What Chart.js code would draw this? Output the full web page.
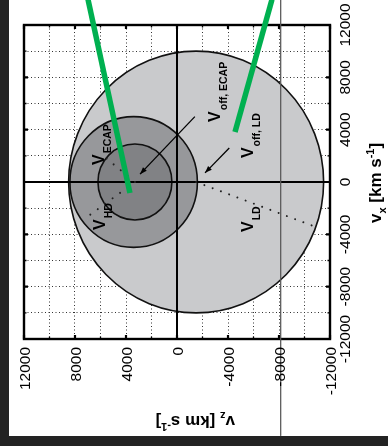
<!DOCTYPE html>
<html>
<head>
<meta charset="utf-8">
<script src="https://cdn.jsdelivr.net/npm/chart.js@4.4.1/dist/chart.umd.min.js"></script>
<style>
  html, body { margin: 0; padding: 0; background: #232323; }
  canvas { display: block; }
</style>
</head>
<body>
<canvas id="chart" width="388" height="446"></canvas>
<script>
// ---- data (velocities in km/s) ----
const vzTicks = [12000, 8000, 4000, 0, -4000, -8000, -12000];
const vxTicks = [12000, 8000, 4000, 0, -4000, -8000, -12000];

// velocity circles: LD (large), ECAP (middle), HD (inner)
const circleCentreVz = [-1500, 3400, 3300];
const circleCentreVx = [0, 0, 0];
const circleRadius   = [10000, 5000, 2900];

// offset vectors
const offEcapVz = [-1400, 2900];
const offEcapVx = [5000, 600];
const offLdVz   = [-4100, -2200];
const offLdVx   = [2600, 700];

// radius vectors (dotted)
const ldRadiusVz   = [-1500, -10900];
const ldRadiusVx   = [0, -3440];
const hdRadiusVz   = [3300, 7370];
const hdRadiusVx   = [0, -2900];
const ecapRadiusVz = [3300, 5570];
const ecapRadiusVx = [0, 1830];

// overlay strokes
const greenAVz = [6980, 3690];
const greenAVx = [13950, -840];
const greenBVz = [-7450, -4550];
const greenBVx = [13950, 3820];
const cursorVz = [-8130, -8130];
const cursorVx = [14000, -19400];
const pointerVz = [-15900];
const pointerVx = [0];

// ---- helpers ----
const zip = (a, b) => a.map((v, i) => ({ x: v, y: b[i] }));
const FONT = '"Liberation Sans", Arial, Helvetica, sans-serif';

const style = {
  circleFill: ['#c9cacc', '#97989b', '#818285'],
  green: '#00b050',
  blue: '#1f6fcb'
};

// left-pointing marker
const pointerImg = document.createElement('canvas');
pointerImg.width = 20; pointerImg.height = 34;
(function () {
  const g = pointerImg.getContext('2d');
  g.fillStyle = style.blue;
  g.beginPath(); g.moveTo(0, 17); g.lineTo(20, 0); g.lineTo(20, 34); g.closePath(); g.fill();
})();

function drawParts(ctx, x, y, angle, parts) {
  ctx.save();
  ctx.translate(x, y);
  ctx.rotate(angle);
  ctx.textAlign = 'left';
  ctx.textBaseline = 'alphabetic';
  let cx = 0;
  for (const p of parts) {
    ctx.font = (p.bold === false ? '' : 'bold ') + p.size + 'px ' + FONT;
    ctx.fillText(p.t, cx, p.dy || 0);
    cx += ctx.measureText(p.t).width + (p.gap || 0);
  }
  ctx.restore();
}

const velocityPlot = {
  id: 'velocityPlot',
  beforeDraw(chart) {
    const ctx = chart.ctx;
    ctx.save();
    ctx.fillStyle = '#232323';
    ctx.fillRect(0, 0, chart.width, chart.height);
    ctx.fillStyle = '#ffffff';
    ctx.fillRect(9, 0, chart.width - 9, 436);
    ctx.restore();
  },
  beforeDatasetsDraw(chart) {
    const ctx = chart.ctx, X = chart.scales.x, Y = chart.scales.y, a = chart.chartArea;
    ctx.save();
    // filled circles
    for (let i = 0; i < circleRadius.length; i++) {
      const cx = X.getPixelForValue(circleCentreVz[i]);
      const cy = Y.getPixelForValue(circleCentreVx[i]);
      const rx = Math.abs(X.getPixelForValue(circleCentreVz[i] + circleRadius[i]) - cx);
      const ry = Math.abs(Y.getPixelForValue(circleCentreVx[i] + circleRadius[i]) - cy);
      ctx.beginPath();
      ctx.ellipse(cx, cy, rx, ry, 0, 0, Math.PI * 2);
      ctx.fillStyle = style.circleFill[i];
      ctx.fill();
      ctx.lineWidth = 1.6;
      ctx.strokeStyle = '#111';
      ctx.stroke();
    }
    // zero axes
    ctx.strokeStyle = '#000';
    ctx.lineWidth = 2;
    const x0 = X.getPixelForValue(0), y0 = Y.getPixelForValue(0);
    ctx.beginPath();
    ctx.moveTo(x0, a.top); ctx.lineTo(x0, a.bottom);
    ctx.moveTo(a.left, y0); ctx.lineTo(a.right, y0);
    ctx.stroke();
    // inward tick marks on all four sides
    for (const t of X.ticks) {
      const major = t.value % 4000 === 0;
      const len = major ? 4 : 2.5;
      ctx.lineWidth = major ? 2.2 : 1.3;
      const xp = X.getPixelForValue(t.value);
      ctx.beginPath();
      ctx.moveTo(xp, a.top); ctx.lineTo(xp, a.top + len);
      ctx.moveTo(xp, a.bottom); ctx.lineTo(xp, a.bottom - len);
      ctx.stroke();
    }
    for (const t of Y.ticks) {
      const major = t.value % 4000 === 0;
      const len = major ? 4 : 2.5;
      ctx.lineWidth = major ? 2.2 : 1.3;
      const yp = Y.getPixelForValue(t.value);
      ctx.beginPath();
      ctx.moveTo(a.left, yp); ctx.lineTo(a.left + len, yp);
      ctx.moveTo(a.right, yp); ctx.lineTo(a.right - len, yp);
      ctx.stroke();
    }
    // frame
    ctx.lineWidth = 2.4;
    ctx.strokeRect(a.left, a.top, a.right - a.left, a.bottom - a.top);
    ctx.restore();
  },
  afterDatasetsDraw(chart) {
    const ctx = chart.ctx, X = chart.scales.x, Y = chart.scales.y, a = chart.chartArea;
    ctx.save();
    // arrow heads
    chart.data.datasets.forEach((ds, i) => {
      if (!ds.arrowHead) return;
      const pts = chart.getDatasetMeta(i).data;
      const p0 = pts[0], p1 = pts[pts.length - 1];
      const ang = Math.atan2(p1.y - p0.y, p1.x - p0.x);
      ctx.save();
      ctx.translate(p1.x, p1.y);
      ctx.rotate(ang);
      ctx.fillStyle = '#000';
      ctx.beginPath();
      ctx.moveTo(0, 0); ctx.lineTo(-7, -2.6); ctx.lineTo(-7, 2.6); ctx.closePath();
      ctx.fill();
      ctx.restore();
    });

    ctx.fillStyle = '#000';
    const V = 16, S = 10.5, SD = 7.5;
    const lab = (vz, vx, sub) => drawParts(ctx, X.getPixelForValue(vz), Y.getPixelForValue(vx), -Math.PI / 2,
      [{ t: 'V', size: V, gap: 1 }, { t: sub, size: S, dy: SD }]);
    lab(-3370, 4590, 'off, ECAP');
    lab(-5960, 1830, 'off, LD');
    lab(5730, 1300, 'ECAP');
    lab(5650, -3670, 'HD');
    lab(-5960, -3820, 'LD');

    // tick labels
    ctx.font = '15.5px ' + FONT;
    ctx.textBaseline = 'alphabetic';
    vzTicks.forEach(v => {
      ctx.save();
      ctx.translate(X.getPixelForValue(v) + 5.5, a.bottom + 8);
      ctx.rotate(-Math.PI / 2);
      ctx.textAlign = 'right';
      ctx.fillText(String(v), 0, 0);
      ctx.restore();
    });
    vxTicks.forEach(v => {
      ctx.save();
      ctx.translate(a.right + 20, Y.getPixelForValue(v));
      ctx.rotate(-Math.PI / 2);
      ctx.textAlign = 'center';
      ctx.fillText(String(v), 0, 0);
      ctx.restore();
    });

    // axis titles
    const title = (axisSub) => [
      { t: 'v', size: 17 }, { t: axisSub, size: 11, dy: 4.5 },
      { t: ' [km s', size: 17 }, { t: '-1', size: 11, dy: -7 }, { t: ']', size: 17 }
    ];
    drawParts(ctx, 381, 223, -Math.PI / 2, title('x'));
    drawParts(ctx, 235, 416, Math.PI, title('z'));
    ctx.restore();
  }
};

const line = (data, extra) => Object.assign({
  data, showLine: true, pointRadius: 0, borderColor: '#000', borderWidth: 1.3, fill: false
}, extra);

new Chart(document.getElementById('chart'), {
  type: 'scatter',
  data: {
    datasets: [
      line(zip(pointerVz, pointerVx), { showLine: false, pointRadius: 10, pointStyle: pointerImg, clip: false, label: 'pointer' }),
      line(zip(greenAVz, greenAVx), { borderColor: style.green, borderWidth: 5.5, clip: false, label: 'green A' }),
      line(zip(greenBVz, greenBVx), { borderColor: style.green, borderWidth: 5.5, clip: false, label: 'green B' }),
      line(zip(cursorVz, cursorVx), { borderColor: 'rgba(90,90,90,0.75)', borderWidth: 1, clip: false, label: 'cursor' }),
      line(zip(offEcapVz, offEcapVx), { arrowHead: true, label: 'v off ECAP' }),
      line(zip(offLdVz, offLdVx), { arrowHead: true, label: 'v off LD' }),
      line(zip(ldRadiusVz, ldRadiusVx), { borderWidth: 2, borderDash: [0.01, 8.8], borderCapStyle: 'round', borderColor: '#222', label: 'v LD' }),
      line(zip(hdRadiusVz, hdRadiusVx), { borderWidth: 2, borderDash: [0.01, 9.2], borderCapStyle: 'round', borderColor: '#222', label: 'v HD' }),
      line(zip(ecapRadiusVz, ecapRadiusVx), { borderWidth: 2, borderDash: [0.01, 9.2], borderCapStyle: 'round', borderColor: '#222', label: 'v ECAP' })
    ]
  },
  options: {
    responsive: false,
    devicePixelRatio: 1,
    animation: false,
    events: [],
    layout: { padding: { left: 24, top: 25, right: 58, bottom: 107 } },
    plugins: { legend: { display: false }, tooltip: { enabled: false } },
    scales: {
      x: {
        type: 'linear', reverse: true, min: -12000, max: 12000,
        ticks: { display: false, stepSize: 2000 },
        grid: { drawTicks: false, color: '#333', lineWidth: 1 },
        border: { display: false, dash: [1, 2.5] }
      },
      y: {
        type: 'linear', min: -12000, max: 12000,
        ticks: { display: false, stepSize: 2000 },
        grid: { drawTicks: false, color: '#333', lineWidth: 1 },
        border: { display: false, dash: [1, 2.5] }
      }
    }
  },
  plugins: [velocityPlot]
});
</script>
</body>
</html>
